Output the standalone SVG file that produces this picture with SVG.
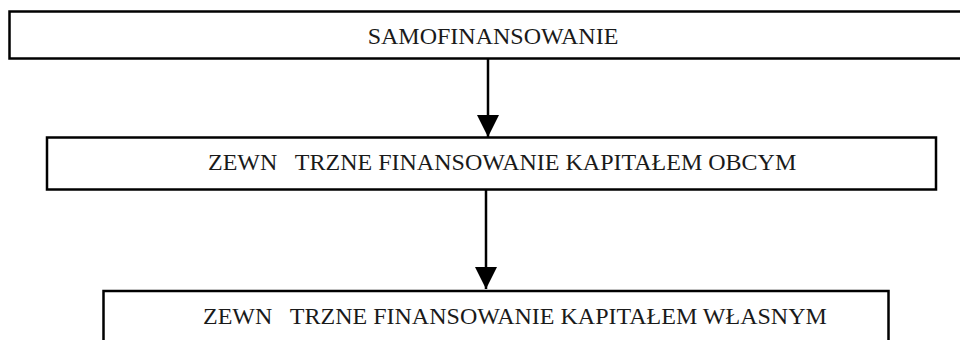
<svg xmlns="http://www.w3.org/2000/svg" width="960" height="340" viewBox="0 0 960 340">
<style>
.box{fill:#fff;stroke:#000;stroke-width:2.5}
.lbl{font-family:"Liberation Serif","Times New Roman",serif;font-size:24px;fill:#1a1a1a;white-space:pre}
.con{stroke:#000;stroke-width:2.5;fill:none}
</style>
<defs>
<marker id="ah" markerUnits="userSpaceOnUse" markerWidth="22" markerHeight="22" refX="20" refY="10" orient="auto" viewBox="0 0 20 20">
<path d="M0,0 L20,10 L0,20 Z" fill="#000"/>
</marker>
</defs>
<g id="n1">
<rect class="box" x="9.5" y="11.5" width="960" height="47"/>
<text class="lbl" x="493" y="44" text-anchor="middle">SAMOFINANSOWANIE</text>
</g>
<g id="n2">
<rect class="box" x="47" y="137.5" width="889" height="52"/>
<text class="lbl" x="208" y="170">ZEWN   TRZNE FINANSOWANIE KAPITAŁEM OBCYM</text>
</g>
<g id="n3">
<rect class="box" x="103.5" y="291" width="785" height="60"/>
<text class="lbl" x="203" y="324">ZEWN   TRZNE FINANSOWANIE KAPITAŁEM WŁASNYM</text>
</g>
<g id="connectors">
<line class="con" x1="488" y1="59" x2="488" y2="137" marker-end="url(#ah)"/>
<line class="con" x1="486" y1="190" x2="486" y2="289" marker-end="url(#ah)"/>
</g>
</svg>
